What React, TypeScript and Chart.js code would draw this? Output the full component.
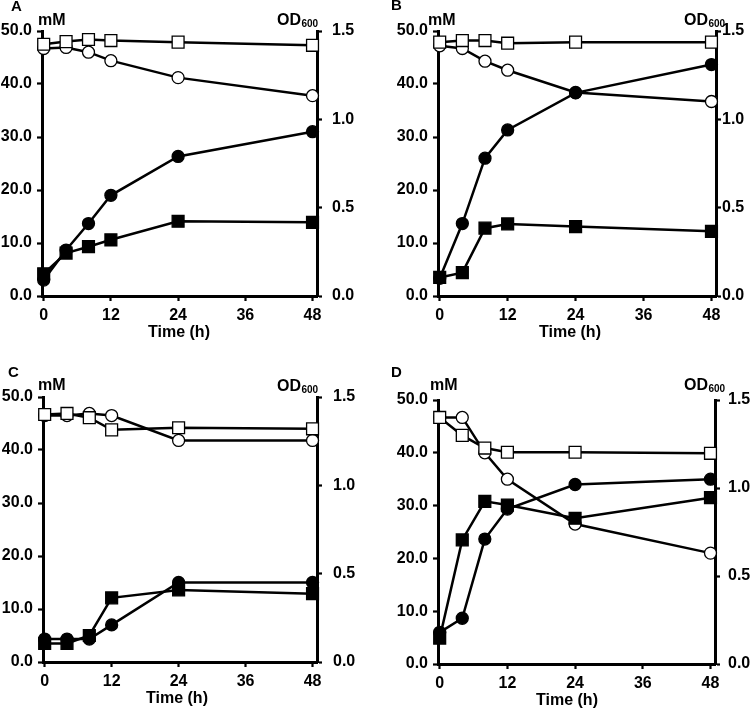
import React, { useEffect, useRef } from "react";
import { Chart, registerables } from "chart.js";

Chart.register(...registerables);

// ---------- data ----------
const timePoints = [0, 4, 8, 12, 24, 48];
const xTickValues = [0, 12, 24, 36, 48];
const mMTickValues = [0, 10, 20, 30, 40, 50];
const odTickValues = [0, 0.5, 1.0, 1.5];

// Panel A
const aOpenSquares = [47.5, 48.0, 48.4, 48.2, 47.9, 47.3];
const aOpenCircles = [46.7, 46.9, 46.0, 44.4, 41.2, 37.8];
const aFilledSquares = [4.2, 8.1, 9.3, 10.6, 14.1, 13.9];
const aFilledCirclesOD = [0.09, 0.26, 0.41, 0.57, 0.79, 0.93];

// Panel B
const bOpenSquares = [47.9, 48.2, 48.2, 47.7, 47.9, 47.9];
const bOpenCircles = [47.2, 46.7, 44.3, 42.6, 38.4, 36.7];
const bFilledSquares = [3.5, 4.4, 12.8, 13.6, 13.1, 12.2];
const bFilledCirclesOD = [0.1, 0.41, 0.78, 0.94, 1.15, 1.31];

// Panel C
const cOpenSquares = [46.7, 46.9, 46.1, 43.8, 44.2, 44.0];
const cOpenCircles = [46.5, 46.5, 46.9, 46.5, 41.8, 41.8];
const cFilledSquares = [3.5, 3.5, 5.0, 12.1, 13.6, 12.9];
const cFilledCirclesOD = [0.13, 0.13, 0.13, 0.21, 0.45, 0.45];

// Panel D
const dOpenSquares = [46.7, 43.3, 40.9, 40.1, 40.1, 39.9];
const dOpenCircles = [46.7, 46.7, 40.0, 35.0, 26.5, 21.0];
const dFilledSquares = [4.9, 23.5, 30.8, 30.1, 27.6, 31.5];
const dFilledCirclesOD = [0.18, 0.26, 0.71, 0.88, 1.02, 1.05];

// ---------- layout (page pixel coordinates) ----------
type Panel = {
  letter: string;
  openSquares: number[];
  openCircles: number[];
  filledSquares: number[];
  filledCirclesOD: number[];
  canvas: { left: number; top: number; width: number; height: number };
  area: { left: number; right: number; top: number; bottom: number };
  rightPad: number;
  letterPos: [number, number];
  mMPos: [number, number];
  odPos: [number, number];
  titleX: number;
};

const panels: Panel[] = [
  {
    letter: "A",
    openSquares: aOpenSquares,
    openCircles: aOpenCircles,
    filledSquares: aFilledSquares,
    filledCirclesOD: aFilledCirclesOD,
    canvas: { left: 0, top: 0, width: 375, height: 356 },
    area: { left: 42, right: 317, top: 31, bottom: 296 },
    rightPad: 10,
    letterPos: [11, 11],
    mMPos: [38, 25],
    odPos: [277, 25],
    titleX: 179,
  },
  {
    letter: "B",
    openSquares: bOpenSquares,
    openCircles: bOpenCircles,
    filledSquares: bFilledSquares,
    filledCirclesOD: bFilledCirclesOD,
    canvas: { left: 375, top: 0, width: 375, height: 356 },
    area: { left: 438, right: 716, top: 31, bottom: 296 },
    rightPad: 1,
    letterPos: [391, 10],
    mMPos: [428, 25],
    odPos: [684, 25],
    titleX: 570,
  },
  {
    letter: "C",
    openSquares: cOpenSquares,
    openCircles: cOpenCircles,
    filledSquares: cFilledSquares,
    filledCirclesOD: cFilledCirclesOD,
    canvas: { left: 0, top: 356, width: 375, height: 356 },
    area: { left: 43, right: 317, top: 397, bottom: 662 },
    rightPad: 11,
    letterPos: [8, 377],
    mMPos: [38, 390],
    odPos: [277, 391],
    titleX: 177,
  },
  {
    letter: "D",
    openSquares: dOpenSquares,
    openCircles: dOpenCircles,
    filledSquares: dFilledSquares,
    filledCirclesOD: dFilledCirclesOD,
    canvas: { left: 375, top: 356, width: 375, height: 356 },
    area: { left: 438, right: 715, top: 400, bottom: 664 },
    rightPad: 8,
    letterPos: [391, 377],
    mMPos: [430, 390],
    odPos: [684, 390],
    titleX: 567,
  },
];

const FONT = "'Liberation Sans', Arial, Helvetica, sans-serif";

function series(values: number[], style: string, filled: boolean, yAxisID: string) {
  const r = style === "rect" ? 8.4 : 6;
  return {
    data: timePoints.map((t, i) => ({ x: t, y: values[i] })),
    yAxisID,
    borderColor: "#000",
    borderWidth: 2.5,
    pointStyle: style,
    pointRadius: r,
    pointHoverRadius: r,
    pointBackgroundColor: filled ? "#000" : "#fff",
    pointBorderColor: "#000",
    pointBorderWidth: 1.3,
    fill: false,
    tension: 0,
    clip: false,
  };
}

function PanelChart({ p }: { p: Panel }) {
  const ref = useRef<HTMLCanvasElement | null>(null);

  useEffect(() => {
    if (!ref.current) return;
    const c = p.canvas;
    const leftW = p.area.left - c.left;
    const rightW = c.left + c.width - p.area.right;
    const topPad = p.area.top - c.top;
    const bottomH = c.top + c.height - p.area.bottom;

    const textPlugin = {
      id: "panelText" + p.letter,
      afterDraw(chart: any) {
        const ctx = chart.ctx;
        ctx.save();
        ctx.fillStyle = "#000";
        ctx.textBaseline = "alphabetic";
        ctx.textAlign = "left";
        ctx.font = `bold 15px ${FONT}`;
        ctx.fillText(p.letter, p.letterPos[0] - c.left, p.letterPos[1] - c.top);
        ctx.font = `bold 16px ${FONT}`;
        ctx.fillText("mM", p.mMPos[0] - c.left, p.mMPos[1] - c.top);
        ctx.font = `bold 16px ${FONT}`;
        const odX = p.odPos[0] - c.left;
        const odY = p.odPos[1] - c.top;
        ctx.fillText("OD", odX, odY);
        const w = ctx.measureText("OD").width;
        ctx.font = `bold 10px ${FONT}`;
        ctx.fillText("600", odX + w + 0.5, odY + 2);
        ctx.font = `bold 16px ${FONT}`;
        ctx.textAlign = "center";
        ctx.fillText("Time (h)", p.titleX - c.left, p.area.bottom + 41 - c.top);
        ctx.restore();
      },
    };

    const axisCommon = {
      grid: {
        drawOnChartArea: false,
        drawTicks: true,
        tickLength: 5,
        tickColor: "#000",
        tickWidth: 2.2,
        color: "#000",
      },
      border: { display: true, color: "#000", width: 3 },
    };

    const tickFont = { family: FONT, size: 16, weight: "bold" };

    const chart = new Chart(ref.current, {
      type: "line",
      data: {
        datasets: [
          { ...series(p.openSquares, "rect", false, "y"), order: 1 },
          { ...series(p.filledCirclesOD, "circle", true, "y1"), order: 2 },
          { ...series(p.filledSquares, "rect", true, "y"), order: 3 },
          { ...series(p.openCircles, "circle", false, "y"), order: 4 },
        ] as any,
      },
      options: {
        responsive: false,
        animation: false,
        devicePixelRatio: 1,
        events: [],
        layout: { padding: { top: topPad, left: 0, right: 0, bottom: 0 } },
        plugins: { legend: { display: false }, tooltip: { enabled: false } },
        scales: {
          x: {
            type: "linear",
            min: -0.3,
            max: 48.8,
            ...axisCommon,
            afterBuildTicks: (s: any) => {
              s.ticks = xTickValues.map((v) => ({ value: v }));
            },
            afterFit: (s: any) => {
              s.height = bottomH;
            },
            ticks: {
              color: "#000",
              font: tickFont,
              padding: 5,
              maxRotation: 0,
              autoSkip: false,
              callback: (v: any) => String(v),
            },
          },
          y: {
            type: "linear",
            position: "left",
            min: 0,
            max: 50,
            ...axisCommon,
            afterBuildTicks: (s: any) => {
              s.ticks = mMTickValues.map((v) => ({ value: v }));
            },
            afterFit: (s: any) => {
              s.width = leftW;
            },
            ticks: {
              color: "#000",
              font: tickFont,
              padding: 5,
              autoSkip: false,
              callback: (v: any) => Number(v).toFixed(1),
            },
          },
          y1: {
            type: "linear",
            position: "right",
            min: 0,
            max: 1.5,
            ...axisCommon,
            afterBuildTicks: (s: any) => {
              s.ticks = odTickValues.map((v) => ({ value: v }));
            },
            afterFit: (s: any) => {
              s.width = rightW;
            },
            ticks: {
              color: "#000",
              font: tickFont,
              padding: p.rightPad,
              autoSkip: false,
              callback: (v: any) => Number(v).toFixed(1),
            },
          },
        },
      } as any,
      plugins: [textPlugin],
    });
    return () => chart.destroy();
  }, [p]);

  return (
    <canvas
      ref={ref}
      width={p.canvas.width}
      height={p.canvas.height}
      style={{
        position: "absolute",
        left: p.canvas.left,
        top: p.canvas.top,
        width: p.canvas.width,
        height: p.canvas.height,
      }}
    />
  );
}

export default function App() {
  return (
    <div
      style={{
        position: "absolute",
        left: 0,
        top: 0,
        width: 750,
        height: 712,
        background: "#fff",
        overflow: "hidden",
      }}
    >
      {panels.map((p) => (
        <PanelChart key={p.letter} p={p} />
      ))}
    </div>
  );
}
